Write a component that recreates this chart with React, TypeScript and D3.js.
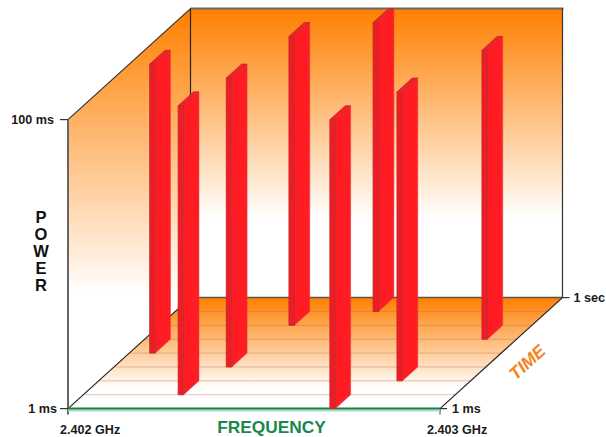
import React from 'react';
import * as d3 from 'd3';

// Frequency hops: one burst per time slot
const hopFreqMHz = [2402.704, 2402.255, 2402.802, 2402.302, 2402.055, 2402.907, 2402.347, 2402.532];
const hopSlot = [0, 1, 2, 3, 4, 5, 6, 7];
const hopPowerTop = [100, 100, 100, 100, 100, 100, 100, 100];
const hopWidthMHz = 0.0148;

const slotLines = [1, 2, 3, 4, 5, 6, 7];
const powerTicks = [{ v: 100, label: '100 ms' }, { v: 1, label: '1 ms' }];
const freqLabels = ['2.402 GHz', '2.403 GHz'];
const powerLetters = ['P', 'O', 'W', 'E', 'R'];

const freqDomain = [2402, 2403];
const slotDomain = [0, 8];

const x = d3.scaleLinear().domain(freqDomain).range([68, 440]);
const depthX = d3.scaleLinear().domain(slotDomain).range([0, 122.5]);
const depthY = d3.scaleLinear().domain(slotDomain).range([0, -111]);
const y = d3.scaleLog().domain([1, 100]).range([408.6, 119.6]);

// 3D -> screen
const pt = (f: number, slot: number, p: number): [number, number] => [
  x(f) + depthX(slot),
  y(p) + depthY(slot),
];
const poly = (pts: [number, number][]) => d3.line()(pts) + 'Z';

const font = '"Liberation Sans", Arial, sans-serif';
const fMin = freqDomain[0];
const fMax = freqDomain[1];
const sMax = slotDomain[1];

const App: React.FC = () => {
  const bars = hopSlot
    .map((slot, i) => ({ slot, f: hopFreqMHz[i], p: hopPowerTop[i] }))
    .sort((a, b) => b.slot - a.slot);

  const backTop = pt(fMin, sMax, 100);
  const backTopR = pt(fMax, sMax, 100);
  const backBot = pt(fMin, sMax, 1);
  const backBotR = pt(fMax, sMax, 1);
  const frontTop = pt(fMin, 0, 100);
  const frontBot = pt(fMin, 0, 1);
  const frontBotR = pt(fMax, 0, 1);

  return (
    <svg width={606} height={437} style={{ position: 'absolute', left: 0, top: 0, display: 'block' }}>
      <defs>
        <linearGradient id="backWall" gradientUnits="userSpaceOnUse" x1={0} x2={0} y1={backTop[1]} y2={218}>
          <stop offset="0" stopColor="#ff7f00" />
          <stop offset="1" stopColor="#ffffff" />
        </linearGradient>
        <linearGradient id="leftWall" gradientUnits="userSpaceOnUse" x1={0} x2={0} y1={backTop[1]} y2={295}>
          <stop offset="0" stopColor="#ff7f00" />
          <stop offset="1" stopColor="#ffffff" />
        </linearGradient>
        <linearGradient id="floor" gradientUnits="userSpaceOnUse" x1={0} x2={0} y1={backBot[1]} y2={388}>
          <stop offset="0" stopColor="#ff7f00" />
          <stop offset="1" stopColor="#ffffff" />
        </linearGradient>
      </defs>

      <path d={poly([backTop, backTopR, backBotR, backBot])} fill="url(#backWall)" />
      <path d={poly([frontTop, backTop, backBot, frontBot])} fill="url(#leftWall)" />
      <path d={poly([backBot, backBotR, frontBotR, frontBot])} fill="url(#floor)" />

      {slotLines.map(s => {
        const a = pt(fMin, s, 1);
        const b = pt(fMax, s, 1);
        return <line key={s} x1={a[0]} y1={a[1]} x2={b[0]} y2={b[1]} stroke="#b0705a" strokeOpacity={0.4} strokeWidth={1} />;
      })}

      {/* frame */}
      <line x1={backTop[0]} y1={backTop[1]} x2={backTopR[0] + 1} y2={backTopR[1]} stroke="#666" strokeWidth={2} />
      <line x1={backBot[0]} y1={backBot[1]} x2={backBotR[0]} y2={backBotR[1]} stroke="#555" strokeWidth={1.5} />
      <line x1={backTop[0]} y1={backTop[1]} x2={backBot[0]} y2={backBot[1]} stroke="#222" strokeWidth={1.2} />
      <line x1={backTopR[0]} y1={backTopR[1]} x2={backBotR[0]} y2={backBotR[1]} stroke="#333" strokeWidth={1.2} />
      <line x1={frontTop[0]} y1={frontTop[1]} x2={backTop[0]} y2={backTop[1]} stroke="#333" strokeWidth={1.2} />
      <line x1={frontBot[0]} y1={frontBot[1]} x2={backBot[0]} y2={backBot[1]} stroke="#222" strokeWidth={1.2} />
      <line x1={frontBotR[0]} y1={frontBotR[1]} x2={backBotR[0]} y2={backBotR[1]} stroke="#222" strokeWidth={1.2} />
      <line x1={frontTop[0]} y1={frontTop[1]} x2={frontBot[0]} y2={frontBot[1] + 6} stroke="#666" strokeWidth={2} />
      <line x1={frontBotR[0]} y1={frontBotR[1]} x2={frontBotR[0]} y2={frontBotR[1] + 6} stroke="#555" strokeWidth={1.2} />
      <line x1={backBotR[0]} y1={backBotR[1]} x2={backBotR[0] + 7} y2={backBotR[1]} stroke="#333" strokeWidth={1.2} />
      <line x1={frontBotR[0]} y1={frontBotR[1]} x2={frontBotR[0] + 7} y2={frontBotR[1]} stroke="#333" strokeWidth={1.2} />
      {powerTicks.map(t => (
        <line key={t.v} x1={60} x2={68} y1={y(t.v)} y2={y(t.v)} stroke="#333" strokeWidth={1.2} />
      ))}

      {/* frequency axis */}
      <line x1={frontBot[0]} y1={frontBot[1] + 2} x2={frontBotR[0]} y2={frontBotR[1] + 2} stroke="#a9dcbc" strokeWidth={2} />
      <line x1={frontBot[0]} y1={frontBot[1]} x2={frontBotR[0]} y2={frontBotR[1]} stroke="#17804a" strokeWidth={2} />

      {bars.map(b => {
        const f2 = b.f + hopWidthMHz;
        const s2 = b.slot + 1;
        const a = pt(b.f, b.slot, 1);
        const c = pt(f2, b.slot, 1);
        const d = pt(f2, b.slot, b.p);
        const e = pt(b.f, b.slot, b.p);
        const g = pt(f2, s2, 1);
        const h = pt(f2, s2, b.p);
        const k = pt(b.f, s2, b.p);
        return (
          <g key={b.slot}>
            <path d={poly([c, g, h, d])} fill="#ff1c22" stroke="#d8484a" strokeOpacity={0.7} strokeWidth={0.7} />
            <path d={poly([e, d, h, k])} fill="#ee2227" stroke="#c9252a" strokeWidth={0.7} />
            <path d={poly([a, c, d, e])} fill="#ee1c24" stroke="#c02a2d" strokeWidth={0.9} />
          </g>
        );
      })}

      <g fontFamily={font} fontWeight="bold" fontSize={12.6} fill="#1a1a1a">
        {powerTicks.map(t => (
          <text key={t.v} x={t.v === 100 ? 54 : 57} y={y(t.v)} dy="0.36em" textAnchor="end">{t.label}</text>
        ))}
        <text x={x(fMin) - 8} y={429.6} dy="0.36em">{freqLabels[0]}</text>
        <text x={x(fMax) - 13} y={429.6} dy="0.36em">{freqLabels[1]}</text>
        <text x={frontBotR[0] + 12} y={frontBotR[1]} dy="0.36em">1 ms</text>
        <text x={backBotR[0] + 11} y={backBotR[1]} dy="0.36em">1 sec</text>
      </g>

      <text x={271.5} y={427} dy="0.36em" textAnchor="middle" fontFamily={font} fontWeight="bold" fontSize={17.3} fill="#17884a">FREQUENCY</text>
      <text transform="translate(527,362) rotate(-42)" textAnchor="middle" dy="0.36em" fontFamily={font} fontWeight="bold" fontStyle="italic" fontSize={17.5} fill="#f58220">TIME</text>

      <g fontFamily={font} fontWeight="bold" fontSize={16.5} fill="#111" textAnchor="middle">
        {powerLetters.map((l, i) => (
          <text key={l} x={41} y={217 + i * 17} dy="0.36em">{l}</text>
        ))}
      </g>
    </svg>
  );
};

export default App;
